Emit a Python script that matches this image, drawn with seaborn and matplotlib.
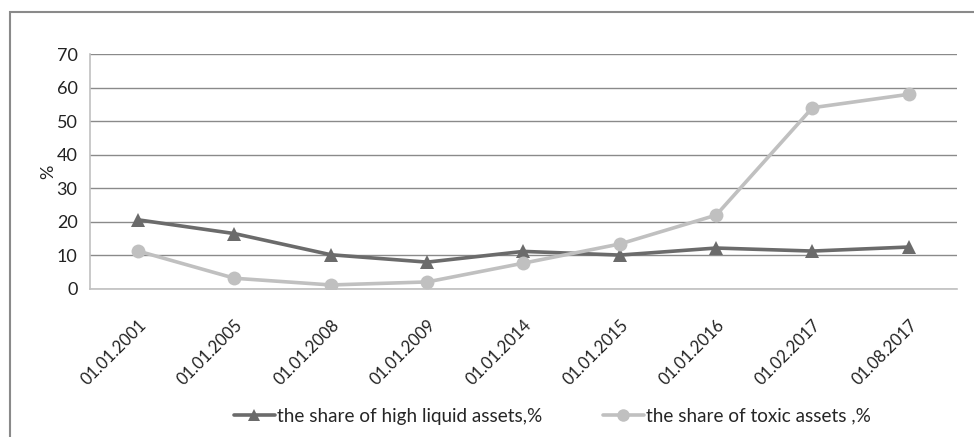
import matplotlib
matplotlib.use("Agg")
import matplotlib.pyplot as plt
from matplotlib.patches import Rectangle
from matplotlib.lines import Line2D
import seaborn as sns
import pandas as pd
import numpy as np

dates = ["01.01.2001", "01.01.2005", "01.01.2008", "01.01.2009", "01.01.2014",
         "01.01.2015", "01.01.2016", "01.02.2017", "01.08.2017"]
high_liquid = [20.6, 16.5, 10.2, 8.0, 11.2, 10.1, 12.2, 11.3, 12.5]
toxic = [11.3, 3.2, 1.2, 2.1, 7.7, 13.4, 22.0, 54.0, 58.0]
series_names = ["the share of high liquid assets,%", "the share of toxic assets ,%"]
y_ticks = [0, 10, 20, 30, 40, 50, 60, 70]

dark = "#6b6b6b"
light = "#c0c0c0"

sns.set_theme(style="white")
plt.rcParams["font.family"] = ["Lato", "DejaVu Sans"]

df = pd.DataFrame({
    "pos": list(range(len(dates))) * 2,
    "value": high_liquid + toxic,
    "series": [series_names[0]] * len(dates) + [series_names[1]] * len(dates),
})

fig = plt.figure(figsize=(9.74, 4.37), dpi=100)
ax = fig.add_axes([0.0924, 0.3387, 0.8901, 0.5377])

sns.lineplot(data=df, x="pos", y="value", hue="series", style="series",
             palette={series_names[0]: dark, series_names[1]: light},
             markers={series_names[0]: "^", series_names[1]: "o"},
             dashes=False, linewidth=2.6, markersize=10, markeredgewidth=0,
             legend=False, ax=ax)

ax.set_xlim(-0.5, len(dates) - 0.5)
ax.set_ylim(0, 70)
ax.set_yticks(y_ticks)
ax.set_yticklabels([str(v) for v in y_ticks], fontsize=13, color="#222222")
ax.set_xticks(range(len(dates)))
ax.set_xticklabels(dates, rotation=45, ha="right", rotation_mode="anchor",
                   fontsize=12, color="#222222")
ax.set_xticks(np.arange(0.5, len(dates), 1.0), minor=True)
ax.tick_params(axis="x", which="major", length=0, pad=20)
ax.tick_params(axis="x", which="minor", length=5, width=1, color="#b5b5b5", direction="out")
ax.tick_params(axis="y", length=5, width=1, color="#b5b5b5", direction="out", pad=4)
ax.set_xlabel("")
ax.set_ylabel("%", fontsize=13, color="#222222", labelpad=0)

ax.grid(axis="y", color="#8a8a8a", linewidth=1)
ax.set_axisbelow(True)
for side in ["top", "right"]:
    ax.spines[side].set_visible(False)
for side in ["left", "bottom"]:
    ax.spines[side].set_color("#c0c0c0")
    ax.spines[side].set_linewidth(1.2)

handles = [
    Line2D([], [], color=dark, lw=2.6, marker="^", markersize=9, markeredgewidth=0),
    Line2D([], [], color=light, lw=2.6, marker="o", markersize=9, markeredgewidth=0),
]
fig.legend(handles, series_names, loc="center", bbox_to_anchor=(0.567, 0.048),
           ncol=2, frameon=False, fontsize=13.6, handlelength=2.2,
           handletextpad=0.1, columnspacing=3.2)

fig.patches.append(Rectangle((10 / 974, -0.05), 1.2, 1 - 12 / 437 + 0.05,
                             transform=fig.transFigure, fill=False,
                             edgecolor="#8a8a8a", linewidth=1.5))

fig.savefig("out.png", dpi=100, facecolor="white")
